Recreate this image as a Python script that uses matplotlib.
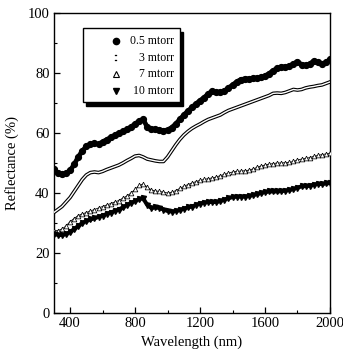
import matplotlib
matplotlib.use("Agg")
import matplotlib.pyplot as plt
from matplotlib.lines import Line2D
from matplotlib.patches import Rectangle
from matplotlib.ticker import MultipleLocator

plt.rcParams['font.family'] = ['Liberation Serif', 'DejaVu Serif']

wavelength = list(range(300, 2001, 25))

r_05 = [48, 46.5, 46.3, 46.5, 47.5, 49.5, 52, 54, 55.5, 56.3, 56.5, 56.3, 57, 57.8, 58.5, 59.2,
        60, 60.5, 61.2, 62, 63, 64, 64.5, 62, 61.3, 61.2, 61, 60.8, 61, 61.8, 63, 64.5,
        66, 67.3, 68.5, 69.7, 70.8, 71.8, 73, 74, 73.5, 73.5, 74, 75, 76, 77, 77.8, 78,
        78, 78.2, 78.3, 78.5, 79, 79.8, 80.8, 81.5, 82, 82, 82.3, 83, 83.8, 82.8, 82.5, 83,
        84, 83.5, 83, 83.5, 84.5]
r_3 = [33.5, 34.5, 35.5, 37, 38.5, 40.5, 42.5, 44.5, 46, 46.8, 47, 46.8, 47.2, 47.8, 48.3, 48.8,
       49.3, 50, 50.8, 51.5, 52.3, 52.5, 52, 51.3, 51, 50.7, 50.5, 50.5, 52, 54, 56, 57.8,
       59.3, 60.5, 61.5, 62.3, 63, 63.8, 64.5, 65, 65.5, 66, 66.8, 67.5, 68, 68.5, 69, 69.5,
       70, 70.5, 71, 71.5, 72, 72.5, 73.2, 73.3, 73.2, 73.5, 74, 74.5, 74.3, 74.5, 75, 75.3,
       75.5, 75.8, 76, 76.5, 77]
r_7 = [27.5, 27.5, 28, 29, 30.5, 31.5, 32.5, 33, 33.5, 34, 34.5, 35, 35.5, 36, 36.5, 37,
       37.5, 38.3, 39, 40, 41.2, 42.5, 43, 42, 41, 40.7, 40.5, 40.3, 40, 40.2, 40.8, 41.5,
       42.2, 42.8, 43.3, 43.8, 44.2, 44.5, 44.8, 45, 45.3, 45.8, 46.2, 46.6, 47, 47.2, 47.3, 47.4,
       47.6, 48, 48.5, 49, 49.3, 49.6, 49.8, 50, 50, 50.1, 50.2, 50.5, 51, 51.3, 51.5, 51.8,
       52.2, 52.5, 52.8, 53, 53.3]
r_10 = [26.5, 26, 26, 26.3, 27, 28, 29, 30, 30.7, 31.2, 31.6, 32, 32.5, 33, 33.5, 34,
        34.5, 35.2, 36, 36.7, 37.3, 38, 38.2, 36, 35, 35.2, 35, 34.5, 34, 33.8, 34, 34.3,
        34.8, 35.2, 35.5, 36, 36.5, 36.8, 37, 37, 37, 37.3, 37.8, 38.3, 38.6, 38.8, 38.8, 38.8,
        39, 39.3, 39.6, 40, 40.3, 40.5, 40.5, 40.5, 40.6, 40.8, 41, 41.3, 41.8, 42.2, 42.3, 42.4,
        42.8, 43, 43, 43.2, 43.3]

labels = ['0.5 mtorr', '3 mtorr', '7 mtorr', '10 mtorr']

fig = plt.figure(figsize=(3.43, 3.59), dpi=100)
ax = fig.add_axes([0.157, 0.128, 0.805, 0.836])

# 0.5 mtorr: thick black with filled circles
ax.plot(wavelength, r_05, color='black', lw=3.4, marker='o', ms=4.2, zorder=4)
# 3 mtorr: hollow double-line band
ax.plot(wavelength, r_3, color='black', lw=2.6, zorder=3)
ax.plot(wavelength, r_3, color='white', lw=1.0, zorder=3.1)
# 7 mtorr: open triangles
ax.plot(wavelength, r_7, color='black', lw=0.6, marker='^', ms=3.4, mfc='white', mec='black',
        mew=0.55, zorder=3)
# 10 mtorr: filled down triangles
ax.plot(wavelength, r_10, color='black', lw=2.9, marker='v', ms=3.6, zorder=4)

ax.set_xlim(300, 2000)
ax.set_ylim(0, 100)
ax.xaxis.set_major_locator(MultipleLocator(400))
ax.xaxis.set_minor_locator(MultipleLocator(200))
ax.yaxis.set_major_locator(MultipleLocator(20))
ax.yaxis.set_minor_locator(MultipleLocator(10))
ax.set_xticks([400, 800, 1200, 1600, 2000])
ax.tick_params(which='both', direction='in', top=False, right=False, labelsize=10.5, pad=3)
ax.tick_params(which='major', length=4, width=0.9)
ax.tick_params(which='minor', length=2.5, width=0.8)
for s in ax.spines.values():
    s.set_linewidth(1.0)

ax.set_xlabel('Wavelength (nm)', fontsize=10.5, labelpad=4)
ax.set_ylabel('Reflectance (%)', fontsize=10.5, labelpad=6)

# legend box with shadow, drawn manually
lx0, lx1, ly0, ly1 = 0.105, 0.457, 0.703, 0.95
ax.add_patch(Rectangle((lx0 + 0.012, ly0 - 0.012), lx1 - lx0, ly1 - ly0, transform=ax.transAxes,
                       facecolor='black', edgecolor='black', zorder=9))
ax.add_patch(Rectangle((lx0, ly0), lx1 - lx0, ly1 - ly0, transform=ax.transAxes,
                       facecolor='white', edgecolor='black', lw=1.0, zorder=10))
marker_styles = [dict(marker='o', ms=4.5, mfc='black', mec='black'),
                 dict(marker='$\u2236$', ms=4.5, mfc='black', mec='black', mew=0.2),
                 dict(marker='^', ms=4.5, mfc='white', mec='black', mew=0.8),
                 dict(marker='v', ms=4.8, mfc='black', mec='black')]
ys = [0.905, 0.850, 0.795, 0.740]
for lab, st, yy in zip(labels, marker_styles, ys):
    ax.add_line(Line2D([0.225], [yy], transform=ax.transAxes, ls='none', zorder=11, **st))
    ax.text(0.435, yy, lab, transform=ax.transAxes, ha='right', va='center', fontsize=8.5,
            zorder=11)

fig.savefig('out.png', dpi=100)
